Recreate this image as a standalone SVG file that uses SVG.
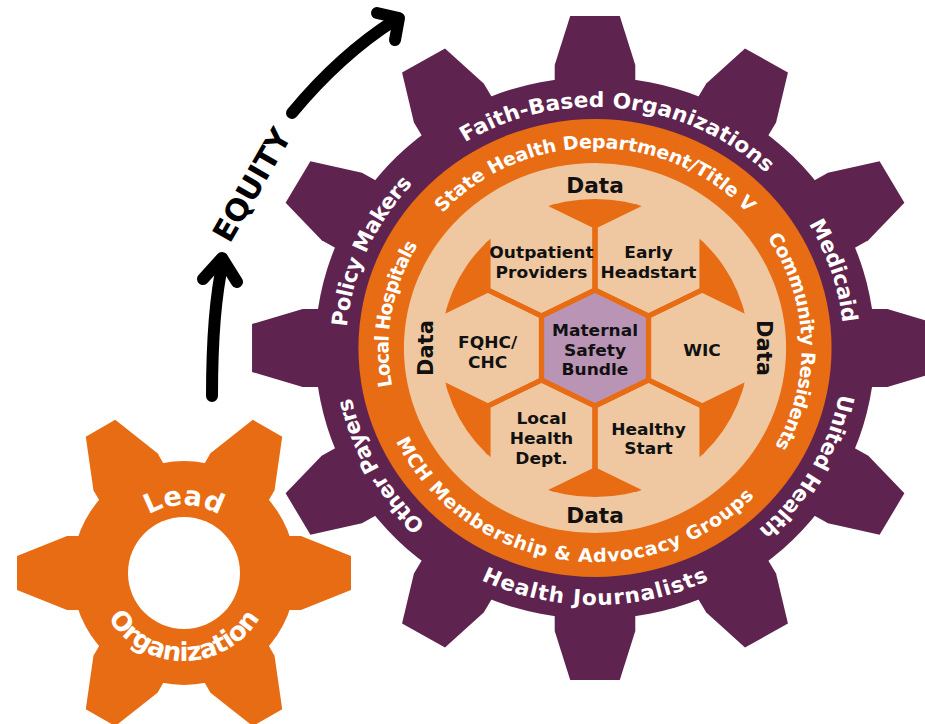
<svg xmlns="http://www.w3.org/2000/svg" width="925" height="724" viewBox="0 0 925 724">
<style>
.pu{fill:#5f2350}
.or{fill:#e86c13}
.be{fill:#efc8a1}
.wt{fill:#fff;font-family:'DejaVu Sans','Open Sans',sans-serif;font-weight:700}
.ot{font-size:21px}
.it{font-size:18.5px}
.hx{fill:#111;font-family:'DejaVu Sans','Open Sans',sans-serif;font-weight:700;font-size:16.5px;text-anchor:middle}
.dt{fill:#111;font-family:'DejaVu Sans','Open Sans',sans-serif;font-weight:700;font-size:21px;text-anchor:middle}
.arr{fill:none;stroke:#000;stroke-width:12;stroke-linecap:round;stroke-linejoin:round}
.hf{fill:#efc8a1}
.hfc{fill:#b994b5}
.hs{fill:none;stroke:#e86c13;stroke-width:5;stroke-linejoin:round}
</style>
<defs>
<polygon id="tooth" points="-39,-250 -39,-283 -24,-332 24,-332 39,-283 39,-250"/>
<polygon id="stooth" points="-37,-100 -37,-117 -17,-167 17,-167 37,-117 37,-100"/>
<polygon id="hex" points="0,-58 51.8,-32 51.8,32 0,58 -51.8,32 -51.8,-32"/>
<path id="oc" d="M -241 0 A 241 241 0 0 1 241 0"/>
<path id="oa" d="M -257 0 A 257 257 0 0 0 257 0"/>
<path id="ic" d="M -200 0 A 200 200 0 0 1 200 0"/>
<path id="ia" d="M -214 0 A 214 214 0 0 0 214 0"/>
<path id="sc" d="M -68 0 A 68 68 0 0 1 68 0"/>
<path id="sa" d="M -88 0 A 88 88 0 0 0 88 0"/>
<clipPath id="hc"><circle cx="0" cy="0" r="149"/></clipPath>
</defs>

<g id="connectors">
<path class="arr" d="M 212 396 Q 212 310 223 262"/>
<polyline class="arr" points="203,279 222,258 237,282"/>
<path class="arr" d="M 292 113 Q 340 55 395 20"/>
<polyline class="arr" points="377,13 399,18 395,40"/>
<text x="0" y="0" transform="translate(261,190) rotate(-60)" text-anchor="middle" font-family="'DejaVu Sans','Open Sans',sans-serif" font-weight="700" font-size="30" fill="#000" textLength="125" lengthAdjust="spacingAndGlyphs">EQUITY</text>
</g>

<g id="partner-gear" transform="translate(595,348) scale(1.033,1)">
<g class="pu">
<circle r="271"/>
<use href="#tooth"/>
<use href="#tooth" transform="rotate(30)"/>
<use href="#tooth" transform="rotate(60)"/>
<use href="#tooth" transform="rotate(90)"/>
<use href="#tooth" transform="rotate(120)"/>
<use href="#tooth" transform="rotate(150)"/>
<use href="#tooth" transform="rotate(180)"/>
<use href="#tooth" transform="rotate(210)"/>
<use href="#tooth" transform="rotate(240)"/>
<use href="#tooth" transform="rotate(270)"/>
<use href="#tooth" transform="rotate(300)"/>
<use href="#tooth" transform="rotate(330)"/>
</g>
<circle class="or" r="229"/>
<circle class="be" r="185"/>
<circle class="or" r="149"/>

<g id="outer-labels" class="wt ot">
<text transform="rotate(6)"><textPath href="#oc" startOffset="50%" text-anchor="middle" textLength="315" lengthAdjust="spacing">Faith-Based Organizations</textPath></text>
<text transform="rotate(71.5)"><textPath href="#oc" startOffset="50%" text-anchor="middle" textLength="105" lengthAdjust="spacing">Medicaid</textPath></text>
<text transform="rotate(120)"><textPath href="#oc" startOffset="50%" text-anchor="middle" textLength="160" lengthAdjust="spacing">United Health</textPath></text>
<text transform="rotate(0)"><textPath href="#oa" startOffset="50%" text-anchor="middle" textLength="228" lengthAdjust="spacing">Health Journalists</textPath></text>
<text transform="rotate(240.5)"><textPath href="#oc" startOffset="50%" text-anchor="middle" textLength="148" lengthAdjust="spacing">Other Payers</textPath></text>
<text transform="rotate(294)"><textPath href="#oc" startOffset="50%" text-anchor="middle" textLength="160" lengthAdjust="spacing">Policy Makers</textPath></text>
</g>

<g id="inner-labels" class="wt it">
<text transform="rotate(0)"><textPath href="#ic" startOffset="50%" text-anchor="middle" textLength="332" lengthAdjust="spacing">State Health Department/Title V</textPath></text>
<text transform="rotate(88)"><textPath href="#ic" startOffset="50%" text-anchor="middle" textLength="220" lengthAdjust="spacing">Community Residents</textPath></text>
<text transform="rotate(9)"><textPath href="#ia" startOffset="50%" text-anchor="middle" textLength="412" lengthAdjust="spacing">MCH Membership &amp; Advocacy Groups</textPath></text>
<text transform="rotate(280)"><textPath href="#ic" startOffset="50%" text-anchor="middle" textLength="147" lengthAdjust="spacing">Local Hospitals</textPath></text>
</g>

<g id="data-labels" class="dt">
<text x="0" y="-155">Data</text>
<text x="0" y="175">Data</text>
<text transform="rotate(-90)" x="0" y="-157">Data</text>
<text transform="rotate(90)" x="0" y="-157">Data</text>
</g>

<g id="hex-fills">
<g id="hex-outpatient"><use href="#hex" class="hf" transform="translate(-51.8,-90)"/></g>
<g id="hex-early-headstart"><use href="#hex" class="hf" transform="translate(51.8,-90)"/></g>
<g id="hex-fqhc"><use href="#hex" class="hf" transform="translate(-103.6,0)"/></g>
<g id="hex-wic"><use href="#hex" class="hf" transform="translate(103.6,0)"/></g>
<g id="hex-local-health"><use href="#hex" class="hf" transform="translate(-51.8,90)"/></g>
<g id="hex-healthy-start"><use href="#hex" class="hf" transform="translate(51.8,90)"/></g>
<g id="hex-maternal"><use href="#hex" class="hfc"/></g>
</g>
<g clip-path="url(#hc)" class="hs">
<use href="#hex" transform="translate(-51.8,-90)"/>
<use href="#hex" transform="translate(51.8,-90)"/>
<use href="#hex" transform="translate(-103.6,0)"/>
<use href="#hex" transform="translate(103.6,0)"/>
<use href="#hex" transform="translate(-51.8,90)"/>
<use href="#hex" transform="translate(51.8,90)"/>
<use href="#hex"/>
</g>

<g class="hx">
<text x="-51.8" y="-90">Outpatient</text>
<text x="-51.8" y="-70">Providers</text>
<text x="51.8" y="-90">Early</text>
<text x="51.8" y="-70">Headstart</text>
<text x="-104" y="0">FQHC/</text>
<text x="-104" y="20">CHC</text>
<text x="0" y="-12.5">Maternal</text>
<text x="0" y="7.5">Safety</text>
<text x="0" y="27.5">Bundle</text>
<text x="103.6" y="8">WIC</text>
<text x="-51.8" y="76">Local</text>
<text x="-51.8" y="96">Health</text>
<text x="-51.8" y="116">Dept.</text>
<text x="51.8" y="87">Healthy</text>
<text x="51.8" y="106">Start</text>
</g>
</g>

<g id="lead-gear" transform="translate(184,573)">
<g fill="#fff" stroke="#fff" stroke-width="9">
<circle r="112"/>
<use href="#stooth" transform="rotate(30)"/>
<use href="#stooth" transform="rotate(90)"/>
<use href="#stooth" transform="rotate(150)"/>
<use href="#stooth" transform="rotate(210)"/>
<use href="#stooth" transform="rotate(270)"/>
<use href="#stooth" transform="rotate(330)"/>
</g>
<g class="or">
<circle r="112"/>
<use href="#stooth" transform="rotate(30)"/>
<use href="#stooth" transform="rotate(90)"/>
<use href="#stooth" transform="rotate(150)"/>
<use href="#stooth" transform="rotate(210)"/>
<use href="#stooth" transform="rotate(270)"/>
<use href="#stooth" transform="rotate(330)"/>
</g>
<circle r="56" fill="#fff"/>
<text class="wt" font-size="27"><textPath href="#sc" startOffset="50%" text-anchor="middle" textLength="74" lengthAdjust="spacing">Lead</textPath></text>
<text class="wt" font-size="26"><textPath href="#sa" startOffset="50%" text-anchor="middle" textLength="182" lengthAdjust="spacing">Organization</textPath></text>
</g>
</svg>
